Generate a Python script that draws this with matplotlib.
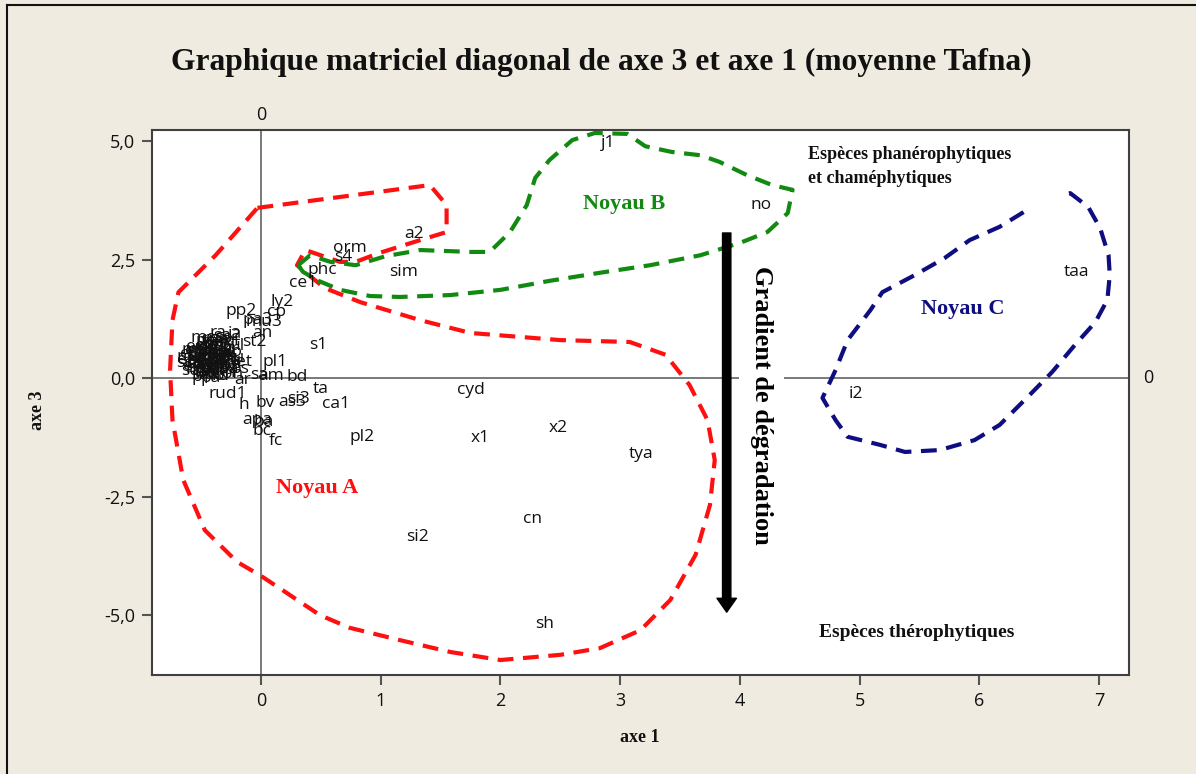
import matplotlib
matplotlib.use('Agg')
import matplotlib.pyplot as plt
from matplotlib.lines import Line2D

# ---------------- data ----------------
# named species points (axe 1, axe 3)
species = ['j1', 'no', 'a2', 'orm', 's4', 'phc', 'sim', 'ce1', 'ly2', 'pp2', 'cp',
           'pa3', 'mu3', 'an', 'st2', 's1', 'et', 'pl1', 'am', 'bd', 'sa', 'ar',
           'ta', 'rud1', 'as3', 'si3', 'ca1', 'bv', 'h', 'apa', 'ba', 'bc', 'fc',
           'pl2', 'x1', 'x2', 'tya', 'cyd', 'cn', 'si2', 'sh', 'i2', 'taa']
axe1 = [2.90, 4.18, 1.28, 0.74, 0.69, 0.51, 1.19, 0.35, 0.175, -0.17, 0.13,
        -0.03, 0.02, 0.01, -0.06, 0.48, -0.14, 0.12, 0.08, 0.30, -0.02, -0.15,
        0.50, -0.28, 0.26, 0.31, 0.63, 0.03, -0.14, -0.03, 0.02, 0.01, 0.12,
        0.84, 1.83, 2.48, 3.17, 1.75, 2.27, 1.31, 2.37, 4.97, 6.81]
axe3 = [4.96, 3.65, 3.04, 2.74, 2.55, 2.28, 2.24, 2.00, 1.60, 1.41, 1.39,
        1.22, 1.18, 0.95, 0.76, 0.70, 0.34, 0.34, 0.04, 0.02, 0.06, -0.05,
        -0.23, -0.34, -0.50, -0.45, -0.55, -0.53, -0.57, -0.89, -0.92, -1.12, -1.33,
        -1.24, -1.27, -1.05, -1.60, -0.25, -2.97, -3.35, -5.19, -0.34, 2.24]

# dense cluster of overlapping species labels
cluster = ['ab', 'ac', 'ae', 'ag', 'al', 'ar2', 'av', 'br', 'ch', 'ci', 'co', 'cr',
           'da', 'di', 'ec', 'er', 'eu', 'fe', 'ge', 'gl', 'ho', 'hy', 'in', 'la',
           'le', 'li', 'lo', 'lu', 'ma', 'me', 'mi', 'mu', 'ne', 'ol', 'on', 'pa',
           'pi', 'ps', 'ra', 'sa2', 'ja', 'sc', 'te', 'tr', 'ul',
           'ba2', 'be', 'bo', 'ca', 'ce', 'cl', 'cu', 'de', 'do', 'ea', 'el', 'em',
           'fa', 'fi', 'ga', 'gr', 'ha', 'he', 'hi', 'ir', 'ju', 'ko', 'lag', 'lav',
           'mal', 'mar', 'nar', 'oc', 'op', 'pe', 'ph', 'pr', 'pt', 'ro', 'sal',
           'sco', 'se', 'sel', 'so', 'th', 'ur']
cluster_x = [-0.52, -0.45, -0.38, -0.48, -0.30, -0.42, -0.55, -0.35, -0.28, -0.50,
             -0.40, -0.33, -0.45, -0.55, -0.60, -0.58, -0.62, -0.37, -0.25, -0.47,
             -0.35, -0.28, -0.42, -0.50, -0.40, -0.30, -0.22, -0.20, -0.38, -0.48,
             -0.27, -0.55, -0.44, -0.33, -0.24, -0.42, -0.52, -0.18, -0.36, -0.28,
             -0.22, -0.60, -0.32, -0.45, -0.20,
             -0.50, -0.43, -0.36, -0.30, -0.24, -0.56, -0.49, -0.41, -0.34, -0.27,
             -0.58, -0.52, -0.46, -0.39, -0.31, -0.25, -0.55, -0.47, -0.40, -0.33,
             -0.26, -0.53, -0.44, -0.37, -0.29, -0.57, -0.50, -0.43, -0.35, -0.46,
             -0.39, -0.32, -0.41, -0.34, -0.49, -0.60, -0.54, -0.38, -0.31, -0.44,
             -0.36]
cluster_y = [0.55, 0.62, 0.50, 0.40, 0.58, 0.35, 0.30, 0.42, 0.45, 0.68,
             0.72, 0.65, 0.48, 0.45, 0.50, 0.25, 0.38, 0.30, 0.35, 0.20,
             0.18, 0.25, 0.55, 0.12, 0.10, 0.12, 0.55, 0.42, 0.82, 0.85,
             0.78, 0.60, 0.28, 0.05, 0.08, 0.00, 0.02, 0.20, 0.95, 0.88,
             0.92, 0.15, 0.35, 0.75, 0.68,
             0.48, 0.44, 0.52, 0.40, 0.30, 0.36, 0.28, 0.22, 0.24, 0.18,
             0.58, 0.66, 0.58, 0.62, 0.52, 0.62, 0.18, 0.10, 0.16, 0.14,
             0.48, 0.40, 0.32, 0.40, 0.30, 0.44, 0.52, 0.68, 0.72, 0.78,
             0.70, 0.75, 0.06, 0.04, 0.06, 0.32, 0.22, 0.60, 0.85, 0.12,
             0.38]

# hand-drawn group outlines (data units)
noyauA_x = [-0.03, 1.41, 1.55, 1.55, 1.33, 0.99, 0.79, 0.66, 0.37, 0.30, 0.53, 0.83,
            1.33, 1.75, 2.50, 3.08, 3.38, 3.58, 3.73, 3.79, 3.75, 3.63, 3.42, 3.17,
            2.83, 2.50, 2.00, 1.58, 1.16, 0.74, 0.49, 0.20, -0.01, -0.20, -0.47,
            -0.65, -0.74, -0.76, -0.74, -0.69, -0.38, -0.03]
noyauA_y = [3.59, 4.07, 3.65, 3.08, 2.91, 2.64, 2.45, 2.45, 2.70, 2.38, 1.90, 1.60,
            1.22, 0.95, 0.80, 0.76, 0.49, -0.15, -0.89, -1.73, -2.68, -3.73, -4.68, -5.32,
            -5.70, -5.84, -5.95, -5.78, -5.53, -5.27, -5.00, -4.51, -4.16, -3.88, -3.21,
            -2.15, -0.89, 0.17, 1.22, 1.81, 2.59, 3.59]
noyauB_x = [0.31, 0.41, 0.58, 0.79, 1.04, 1.33, 1.75, 1.91, 2.08, 2.22, 2.29, 2.41,
            2.60, 2.79, 3.06, 3.21, 3.43, 3.67, 3.83, 4.06, 4.27, 4.44, 4.40, 4.23,
            4.00, 3.67, 3.25, 2.83, 2.41, 2.00, 1.58, 1.16, 0.91, 0.66, 0.48, 0.35, 0.31]
noyauB_y = [2.38, 2.59, 2.45, 2.38, 2.57, 2.70, 2.66, 2.66, 3.08, 3.65, 4.22, 4.60,
            5.02, 5.17, 5.15, 4.89, 4.77, 4.70, 4.56, 4.28, 4.07, 3.97, 3.48, 3.08,
            2.85, 2.59, 2.38, 2.22, 2.05, 1.86, 1.75, 1.71, 1.73, 1.86, 2.05, 2.24, 2.38]
noyauC_x = [6.37, 6.17, 5.92, 5.71, 5.46, 5.19, 5.09, 4.90, 4.80, 4.69, 4.80, 4.90,
            5.17, 5.38, 5.67, 5.96, 6.17, 6.42, 6.61, 6.80, 6.97, 7.07, 7.09, 7.08,
            7.01, 6.91, 6.76, 6.68]
noyauC_y = [3.50, 3.19, 2.91, 2.53, 2.17, 1.81, 1.43, 0.80, 0.17, -0.42, -0.89, -1.24,
            -1.41, -1.56, -1.52, -1.31, -0.99, -0.36, 0.13, 0.70, 1.18, 1.65, 2.17, 2.59,
            3.16, 3.61, 3.90, 3.86]

xticks = [0, 1, 2, 3, 4, 5, 6, 7]
xticklabels = ['0', '1', '2', '3', '4', '5', '6', '7']
yticks = [-5.0, -2.5, 0.0, 2.5, 5.0]
yticklabels = ['-5,0', '-2,5', '0,0', '2,5', '5,0']

title = 'Graphique matriciel diagonal de axe 3 et axe 1 (moyenne Tafna)'

# ---------------- figure ----------------
BG = '#EFEBE1'
SERIF = 'Liberation Serif'
SANS = 'Open Sans'
RED, GREEN, NAVY = '#FF1010', '#128A12', '#0E0E80'

fig = plt.figure(figsize=(11.96, 7.74), dpi=100, facecolor=BG)
ax = fig.add_axes([0.1271, 0.1279, 0.8169, 0.7041])
ax.set_facecolor('white')
ax.set_xlim(-0.911, 7.251)
ax.set_ylim(-6.266, 5.232)

for s in ax.spines.values():
    s.set_color('#404040')
    s.set_linewidth(1.5)

ax.set_xticks(xticks)
ax.set_xticklabels(xticklabels)
ax.set_yticks(yticks)
ax.set_yticklabels(yticklabels)
ax.tick_params(direction='out', length=7, width=1.5, color='#555555',
               labelsize=13, pad=5, labelcolor='#111111')
for lab in ax.get_xticklabels() + ax.get_yticklabels():
    lab.set_family(SANS)

# reference lines
ax.axvline(0, color='#555555', lw=1.1, zorder=1)
ax.axhline(0, color='#555555', lw=1.1, zorder=1)
ax.annotate('0', xy=(0, 1), xycoords=('data', 'axes fraction'), xytext=(0, 4),
            textcoords='offset points', ha='center', va='bottom', fontsize=13,
            family=SANS, color='#111111')
ax.annotate('0', xy=(1, 0), xycoords=('axes fraction', 'data'), xytext=(10, 0),
            textcoords='offset points', ha='left', va='center', fontsize=13,
            family=SANS, color='#111111')

# outlines
dash = (0, (3.8, 2.3))
ax.plot(noyauA_x, noyauA_y, color=RED, lw=3, ls=dash, zorder=2)
ax.plot(noyauB_x, noyauB_y, color=GREEN, lw=3, ls=dash, zorder=2)
ax.plot(noyauC_x, noyauC_y, color=NAVY, lw=3, ls=dash, zorder=2)

# labels
for lab, xi, yi in zip(cluster, cluster_x, cluster_y):
    ax.text(xi, yi, lab, ha='center', va='center', fontsize=12.5, family=SANS,
            color='#111111', zorder=3)
for lab, xi, yi in zip(species, axe1, axe3):
    ax.text(xi, yi, lab, ha='center', va='center', fontsize=12.5, family=SANS,
            color='#111111', zorder=3)

# group names
ax.text(0.47, -2.32, 'Noyau A', color=RED, fontsize=16, fontweight='bold',
        family=SERIF, ha='center', va='center', zorder=4)
ax.text(3.03, 3.67, 'Noyau B', color=GREEN, fontsize=16, fontweight='bold',
        family=SERIF, ha='center', va='center', zorder=4)
ax.text(5.86, 1.46, 'Noyau C', color=NAVY, fontsize=16, fontweight='bold',
        family=SERIF, ha='center', va='center', zorder=4)

ax.text(4.57, 4.90, 'Espèces phanérophytiques\net chaméphytiques', color='#111111',
        fontsize=13, fontweight='bold', family=SERIF, ha='left', va='top',
        linespacing=1.55, zorder=4)
ax.text(5.48, -5.36, 'Espèces thérophytiques', color='#111111', fontsize=14,
        fontweight='bold', family=SERIF, ha='center', va='center', zorder=4)

# gradient arrow
ax.text(4.18, -0.57, 'Gradient de dégradation', rotation=-90, ha='center',
        va='center', fontsize=19, fontweight='bold', family=SERIF, color='black',
        zorder=4, bbox=dict(facecolor='white', edgecolor='none', pad=8))
ax.annotate('', xy=(3.89, -4.94), xytext=(3.89, 3.06),
            arrowprops=dict(facecolor='black', edgecolor='black', width=6,
                            headwidth=14, headlength=10, shrink=0), zorder=5)

# titles / axis labels
fig.text(0.5025, 1 - 62 / 774, title, ha='center', va='center', fontsize=22.7,
         fontweight='bold', family=SERIF, color='#111111')
fig.text(640 / 1196, 1 - 738 / 774, 'axe 1', ha='center', va='center', fontsize=13,
         fontweight='bold', family=SERIF, color='#111111')
fig.text(38 / 1196, 1 - 410 / 774, 'axe 3', ha='center', va='center', fontsize=13,
         fontweight='bold', family=SERIF, rotation=90, color='#111111')

# outer frame lines
fig.add_artist(Line2D([7 / 1196, 7 / 1196], [0, 1 - 5 / 774], transform=fig.transFigure,
                      color='#111111', lw=1.5))
fig.add_artist(Line2D([7 / 1196, 1], [1 - 5 / 774, 1 - 5 / 774], transform=fig.transFigure,
                      color='#111111', lw=1.5))

fig.savefig('out.png', dpi=100, facecolor=BG)
